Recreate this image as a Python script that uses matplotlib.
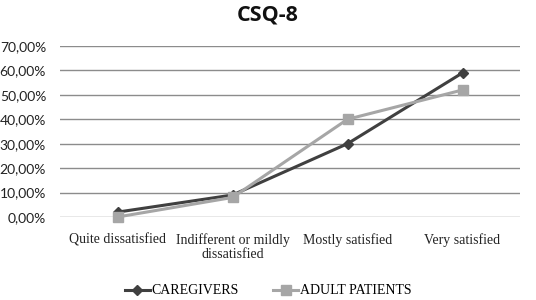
import matplotlib
matplotlib.use("Agg")
import matplotlib.pyplot as plt

# Dane z wykresu CSQ-8
categories = ["Quite dissatisfied", "Indifferent or mildly\ndissatisfied",
              "Mostly satisfied", "Very satisfied"]
caregivers = [2, 9, 30, 59]
adult_patients = [0, 8, 40, 52]
y_ticks = [0, 10, 20, 30, 40, 50, 60, 70]

fig = plt.figure(figsize=(5.36, 3.0), dpi=100)
fig.patch.set_facecolor("white")
ax = fig.add_axes([60 / 536, 1 - 217 / 300, 460 / 536, 171 / 300])

x = range(len(categories))
ax.plot(x, caregivers, color="#404040", lw=2.2, marker="D", ms=5.5,
        label="CAREGIVERS", zorder=3)
ax.plot(x, adult_patients, color="#a6a6a6", lw=2.2, marker="s", ms=7,
        label="ADULT PATIENTS", zorder=4)

ax.set_xlim(-0.5, len(categories) - 0.5)
ax.set_ylim(0, 70)
ax.set_yticks(y_ticks)
ax.set_yticklabels([f"{v:.2f}%".replace(".", ",") for v in y_ticks],
                   fontfamily="Lato", fontsize=10, color="#222222")
ax.set_xticks(list(x))
ax.set_xticklabels(categories, fontfamily="Liberation Serif", fontsize=10,
                   color="#222222", linespacing=1.1)
ax.tick_params(axis="both", length=0)
ax.tick_params(axis="y", pad=10)
ax.tick_params(axis="x", pad=12)
ax.grid(axis="y", color="#8c8c8c", lw=1)
ax.set_axisbelow(True)
for s in ax.spines.values():
    s.set_visible(False)
for line in ax.lines:
    line.set_clip_on(False)

fig.text(0.5, 1 - 15 / 300, "CSQ-8", ha="center", va="center",
         fontsize=15.5, fontweight="bold", fontfamily="Open Sans", color="#111111")

fig.legend(loc="center", bbox_to_anchor=(0.5, 1 - 291 / 300), ncol=2,
           frameon=False, handlelength=1.8, handletextpad=0.1,
           columnspacing=2.5, prop={"family": "Liberation Serif", "size": 10})

fig.savefig("out.png", dpi=100)
